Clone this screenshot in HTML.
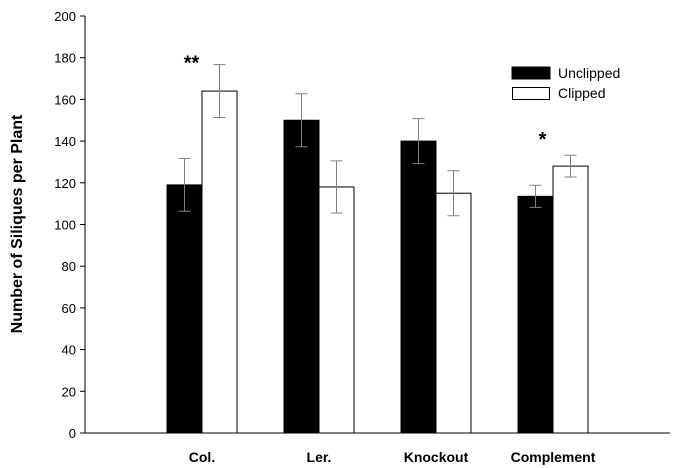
<!DOCTYPE html>
<html><head><meta charset="utf-8"><style>
body{margin:0;background:#fff}
svg{display:block;font-family:"Liberation Sans",Arial,sans-serif}
</style></head><body>
<svg id="c" width="673" height="468"></svg>
<script>
const categories=["Col.","Ler.","Knockout","Complement"];
const unclipped=[119,150,140,113.5];
const unclippedErr=[12.7,12.7,10.8,5.3];
const clipped=[164,118,115,128];
const clippedErr=[12.7,12.5,10.8,5.2];
const sigLabels=["**","","","*"];
const sigLevel=[180,0,0,143.5];
const yTicks=[0,20,40,60,80,100,120,140,160,180,200];
const NS="http://www.w3.org/2000/svg";
const svg=document.getElementById('c');
const x0=85,x1=670,yb=433,yt=16;
const y=v=>yb-(v/200)*(yb-yt);
const xc=i=>x0+(x1-x0)/5*(i+1);
function mk(t,a,p){const e=document.createElementNS(NS,t);for(const k in a)e.setAttribute(k,a[k]);(p||svg).appendChild(e);return e;}
let ax=mk('line',{x1:x0,y1:yt,x2:x0,y2:yb,stroke:'#000','stroke-width':1});


let bx=mk('line',{x1:x0,y1:yb,x2:x1,y2:yb,stroke:'#000','stroke-width':1});


yTicks.forEach(v=>{
 let t=mk('line',{x1:x0-5,y1:y(v),x2:x0,y2:y(v),stroke:'#000'});
 
 
 let l=mk('text',{x:x0-9,y:y(v)+5,'text-anchor':'end','font-size':13});
 l.textContent=v;
 
 
});
const bw=35;
categories.forEach((c,i)=>{
 const cx=xc(i);
 let b1=mk('rect',{x:cx-bw,y:y(unclipped[i]),width:bw,height:yb-y(unclipped[i]),fill:'#000',stroke:'#000'});
 
 
 let b2=mk('rect',{x:cx,y:y(clipped[i]),width:bw,height:yb-y(clipped[i]),fill:'#fff',stroke:'#000'});
 
 
 [[cx-bw/2,unclipped[i],unclippedErr[i]],[cx+bw/2,clipped[i],clippedErr[i]]].forEach(([ex,v,e])=>{
  let g=mk('path',{d:`M${ex},${y(v+e)}V${y(v-e)}M${ex-6},${y(v+e)}H${ex+6}M${ex-6},${y(v-e)}H${ex+6}`,stroke:'#808080','stroke-width':1,fill:'none'});
  
  
 });
 let xl=mk('text',{x:cx,y:462,'text-anchor':'middle','font-size':14,'font-weight':'bold'});
 xl.textContent=c;
 
 
 if(sigLabels[i]){
  let s=mk('text',{x:cx-bw/2+7,y:y(sigLevel[i])+12,'text-anchor':'middle','font-size':20,'font-weight':'bold'});
  s.textContent=sigLabels[i];
  
  
 }
});
let yt2=mk('text',{x:0,y:0,transform:'translate(22,224) rotate(-90)','text-anchor':'middle','font-size':16,'font-weight':'bold'});
yt2.textContent='Number of Siliques per Plant';


let r1=mk('rect',{x:512,y:67,width:38,height:12,fill:'#000',stroke:'#000'});


let t1=mk('text',{x:558,y:78,'font-size':14});t1.textContent='Unclipped';


let r2=mk('rect',{x:512.5,y:87.5,width:37,height:12,fill:'#fff',stroke:'#000'});


let t2=mk('text',{x:558,y:98,'font-size':14});t2.textContent='Clipped';


</script>
</body></html>
